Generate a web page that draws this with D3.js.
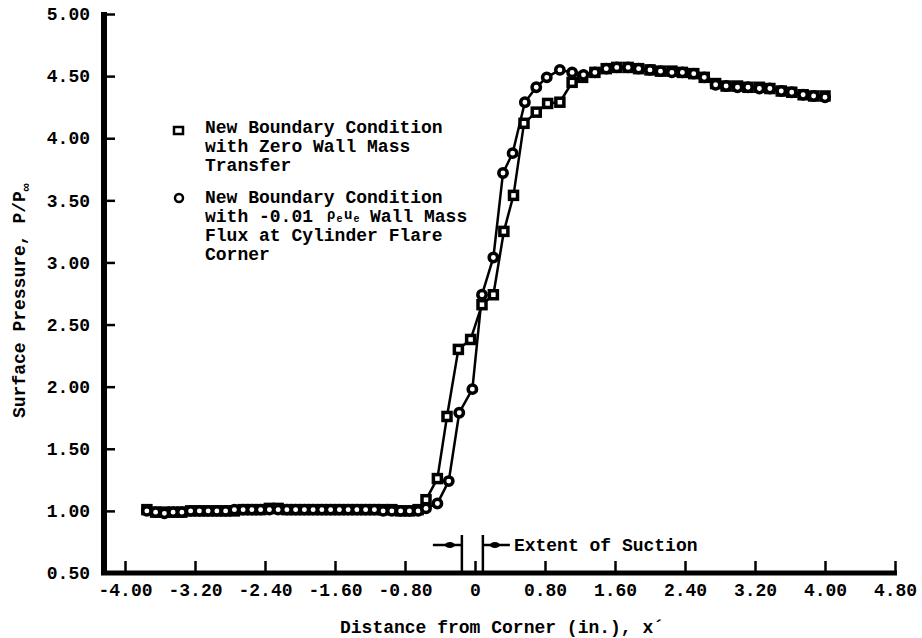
<!DOCTYPE html>
<html lang="en">

<head>
    <meta charset="UTF-8">
    <title>Surface Pressure vs Distance from Corner</title>
    <script src="https://d3js.org/d3.v7.min.js"></script>
    <style>
        body {
            margin: 0;
            background-color: white;
        }

        svg {
            display: block;
            background-color: white;
        }

        text {
            font-family: "Liberation Mono", "DejaVu Sans Mono", monospace;
            font-weight: bold;
            fill: black;
        }

        .tick line {
            stroke: black;
            stroke-width: 2.5px;
        }

        .tick text {
            font-size: 18px;
        }
    </style>
</head>

<body>
<svg width="922" height="638"></svg>

<script>
    const width = 922;
    const height = 638;

    // tick values
    const xTicks = [-4.00, -3.20, -2.40, -1.60, -0.80, 0, 0.80, 1.60, 2.40, 3.20, 4.00, 4.80];
    const yTicks = [0.50, 1.00, 1.50, 2.00, 2.50, 3.00, 3.50, 4.00, 4.50, 5.00];

    // new boundary condition, zero wall mass transfer (squares)
    const squareX = [-3.75, -3.65, -3.55, -3.45, -3.35, -3.25, -3.15, -3.05, -2.95, -2.85,
        -2.75, -2.65, -2.55, -2.45, -2.35, -2.25, -2.15, -2.05, -1.95, -1.85,
        -1.75, -1.65, -1.55, -1.45, -1.35, -1.25, -1.15, -1.05, -0.95, -0.85,
        -0.75, -0.65, -0.56, -0.43, -0.32, -0.19, -0.05, 0.08, 0.21, 0.33,
        0.44, 0.56, 0.70, 0.83, 0.97, 1.11, 1.23, 1.37, 1.50, 1.62,
        1.75, 1.87, 2.00, 2.12, 2.25, 2.37, 2.50, 2.62, 2.75, 2.87,
        3.00, 3.12, 3.25, 3.37, 3.50, 3.62, 3.75, 3.87, 4.00];
    const squareY = [1.01, 0.99, 0.99, 0.99, 0.99, 1.00, 1.00, 1.00, 1.00, 1.00,
        1.00, 1.01, 1.01, 1.01, 1.02, 1.02, 1.01, 1.01, 1.01, 1.01,
        1.01, 1.01, 1.01, 1.01, 1.01, 1.01, 1.01, 1.01, 1.01, 1.00,
        1.00, 1.01, 1.09, 1.26, 1.76, 2.30, 2.38, 2.66, 2.74, 3.25,
        3.54, 4.12, 4.21, 4.28, 4.29, 4.45, 4.49, 4.53, 4.56, 4.57,
        4.57, 4.56, 4.55, 4.54, 4.54, 4.53, 4.52, 4.49, 4.44, 4.42,
        4.42, 4.41, 4.41, 4.40, 4.38, 4.37, 4.35, 4.34, 4.34];

    // new boundary condition, -0.01 rho_e u_e suction at corner (circles)
    const circleX = [-3.75, -3.65, -3.55, -3.45, -3.35, -3.25, -3.15, -3.05, -2.95, -2.85,
        -2.75, -2.65, -2.55, -2.45, -2.35, -2.25, -2.15, -2.05, -1.95, -1.85,
        -1.75, -1.65, -1.55, -1.45, -1.35, -1.25, -1.15, -1.05, -0.95, -0.85,
        -0.75, -0.65, -0.56, -0.43, -0.30, -0.18, -0.03, 0.08, 0.21, 0.32,
        0.43, 0.57, 0.70, 0.82, 0.97, 1.11, 1.24, 1.37, 1.50, 1.62,
        1.75, 1.87, 2.00, 2.12, 2.25, 2.37, 2.50, 2.62, 2.75, 2.87,
        3.00, 3.12, 3.25, 3.37, 3.50, 3.62, 3.75, 3.87, 4.00];
    const circleY = [1.00, 0.99, 0.98, 0.99, 0.99, 1.00, 1.00, 1.00, 1.00, 1.00,
        1.01, 1.01, 1.01, 1.01, 1.01, 1.01, 1.01, 1.01, 1.01, 1.01,
        1.01, 1.01, 1.01, 1.01, 1.01, 1.01, 1.01, 1.00, 1.00, 1.00,
        1.00, 1.00, 1.02, 1.06, 1.24, 1.79, 1.98, 2.74, 3.04, 3.72,
        3.88, 4.29, 4.41, 4.49, 4.55, 4.53, 4.51, 4.53, 4.56, 4.57,
        4.57, 4.56, 4.55, 4.54, 4.53, 4.53, 4.52, 4.49, 4.43, 4.42,
        4.41, 4.41, 4.40, 4.40, 4.38, 4.37, 4.35, 4.34, 4.33];

    // extent of suction (x, in.)
    const suctionStart = -0.15;
    const suctionEnd = 0.09;

    const svg = d3.select("svg");

    const x = d3.scaleLinear().domain([-4.24, 4.80]).range([104, 895]);
    const y = d3.scaleLinear().domain([0.50, 5.00]).range([573, 14]);

    // 坐标轴
    const xAxis = svg.append("g")
        .attr("transform", `translate(0,${y(0.5)})`)
        .call(d3.axisBottom(x)
            .tickValues(xTicks)
            .tickSize(-12)
            .tickPadding(10)
            .tickFormat(d => d === 0 ? "0" : d.toFixed(2)));
    xAxis.select(".domain").remove();

    const yAxis = svg.append("g")
        .attr("transform", `translate(${x(-4.24)},0)`)
        .call(d3.axisLeft(y)
            .tickValues(yTicks)
            .tickSize(-11)
            .tickPadding(14)
            .tickFormat(d => d.toFixed(2)));
    yAxis.select(".domain").remove();

    // thick axis lines
    svg.append("rect")
        .attr("x", x(-4.24) - 3).attr("y", y(0.5) - 2.5)
        .attr("width", x(4.80) - x(-4.24) + 5).attr("height", 5);
    svg.append("rect")
        .attr("x", x(-4.24) - 3).attr("y", y(5.0) - 2)
        .attr("width", 6).attr("height", y(0.5) - y(5.0) + 4);

    // axis titles
    svg.append("text")
        .attr("transform", "translate(25,418) rotate(-90)")
        .attr("font-size", 18)
        .text("Surface Pressure, P/P")
        .append("tspan")
        .attr("font-size", 13)
        .attr("dy", 5)
        .text("∞");

    svg.append("text")
        .attr("x", 340)
        .attr("y", 633)
        .attr("font-size", 18)
        .text("Distance from Corner (in.), x´");

    // series
    const squares = squareX.map((d, i) => ({ x: d, y: squareY[i] }));
    const circles = circleX.map((d, i) => ({ x: d, y: circleY[i] }));

    const line = d3.line().x(d => x(d.x)).y(d => y(d.y));

    [squares, circles].forEach(data => {
        svg.append("path")
            .datum(data)
            .attr("d", line)
            .attr("fill", "none")
            .attr("stroke", "black")
            .attr("stroke-width", 2.5);
    });

    svg.selectAll(".sq")
        .data(squares)
        .enter()
        .append("rect")
        .attr("class", "sq")
        .attr("x", d => x(d.x) - 4)
        .attr("y", d => y(d.y) - 4)
        .attr("width", 8)
        .attr("height", 8)
        .attr("fill", "white")
        .attr("stroke", "black")
        .attr("stroke-width", 3.5);

    svg.selectAll(".ci")
        .data(circles)
        .enter()
        .append("circle")
        .attr("class", "ci")
        .attr("cx", d => x(d.x))
        .attr("cy", d => y(d.y))
        .attr("r", 4.2)
        .attr("fill", "white")
        .attr("stroke", "black")
        .attr("stroke-width", 3.5);

    // legend
    svg.append("rect")
        .attr("x", 174).attr("y", 127)
        .attr("width", 9).attr("height", 7)
        .attr("fill", "white").attr("stroke", "black").attr("stroke-width", 2.5);
    svg.append("circle")
        .attr("cx", 179).attr("cy", 198).attr("r", 4)
        .attr("fill", "white").attr("stroke", "black").attr("stroke-width", 2.5);

    const legend1 = ["New Boundary Condition", "with Zero Wall Mass", "Transfer"];
    legend1.forEach((t, i) => {
        svg.append("text")
            .attr("x", 205).attr("y", 133 + i * 19)
            .attr("font-size", 18)
            .text(t);
    });

    svg.append("text").attr("x", 205).attr("y", 203).attr("font-size", 18)
        .text("New Boundary Condition");
    // "with -0.01 ρeue Wall Mass" (e as subscripts, kept above the next line)
    svg.append("text").attr("x", 205).attr("y", 222).attr("font-size", 18)
        .text("with -0.01");
    const rhoParts = [
        { t: "ρ", x: 327, y: 219, size: 14 },
        { t: "e", x: 336.5, y: 222, size: 10 },
        { t: "u", x: 344, y: 219, size: 14 },
        { t: "e", x: 353.5, y: 222, size: 10 }
    ];
    rhoParts.forEach(p => {
        svg.append("text")
            .attr("x", p.x).attr("y", p.y)
            .attr("font-size", p.size)
            .text(p.t);
    });
    svg.append("text").attr("x", 370).attr("y", 222).attr("font-size", 18)
        .text("Wall Mass");
    svg.append("text").attr("x", 205).attr("y", 241).attr("font-size", 18)
        .text("Flux at Cylinder Flare");
    svg.append("text").attr("x", 205).attr("y", 260).attr("font-size", 18)
        .text("Corner");

    // extent of suction marker
    const ann = svg.append("g");
    [suctionStart, suctionEnd].forEach(v => {
        ann.append("line")
            .attr("x1", x(v)).attr("x2", x(v))
            .attr("y1", 535).attr("y2", y(0.5))
            .attr("stroke", "black").attr("stroke-width", 2.5);
    });
    ann.append("line")
        .attr("x1", x(suctionStart) - 29).attr("x2", x(suctionStart))
        .attr("y1", 545).attr("y2", 545)
        .attr("stroke", "black").attr("stroke-width", 2.5);
    ann.append("line")
        .attr("x1", x(suctionEnd)).attr("x2", x(suctionEnd) + 27)
        .attr("y1", 545).attr("y2", 545)
        .attr("stroke", "black").attr("stroke-width", 2.5);
    ann.append("ellipse")
        .attr("cx", x(suctionStart) - 12).attr("cy", 545)
        .attr("rx", 5).attr("ry", 3);
    ann.append("ellipse")
        .attr("cx", x(suctionEnd) + 12).attr("cy", 545)
        .attr("rx", 5).attr("ry", 3);
    ann.append("text")
        .attr("x", x(suctionEnd) + 31)
        .attr("y", 551)
        .attr("font-size", 18)
        .text("Extent of Suction");
</script>
</body>

</html>
